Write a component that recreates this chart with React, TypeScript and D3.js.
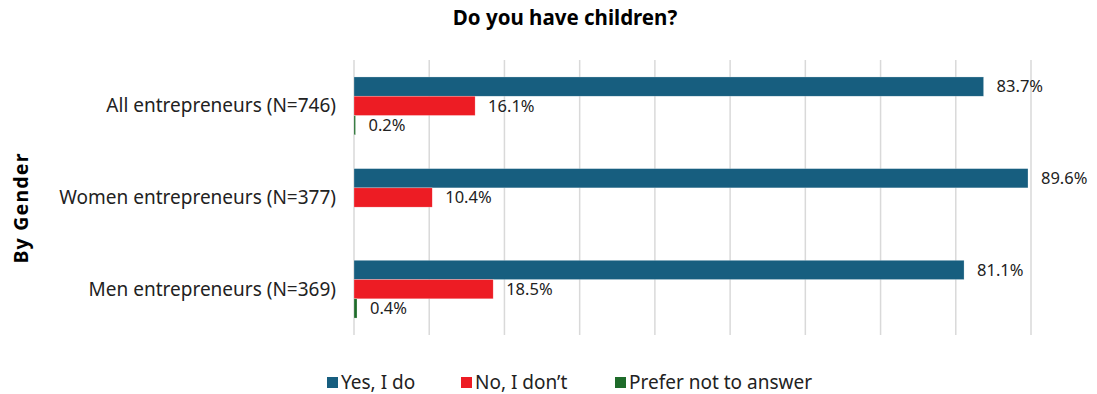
import React from "react";
import * as d3 from "d3";

const categories = [
  "All entrepreneurs (N=746)",
  "Women entrepreneurs (N=377)",
  "Men entrepreneurs (N=369)",
];
const seriesNames = ["Yes, I do", "No, I don\u2019t", "Prefer not to answer"];
const yesValues = [83.7, 89.6, 81.1];
const noValues = [16.1, 10.4, 18.5];
const preferValues: (number | null)[] = [0.2, null, 0.4];
const xTicks = [0, 10, 20, 30, 40, 50, 60, 70, 80, 90];
const colors = ["#175e7f", "#ed1c24", "#1e6b2a"];

const W = 1097;
const H = 394;
const FONT = "'Noto Sans', 'Open Sans', sans-serif";

export default function App() {
  const x = d3.scaleLinear().domain([0, 90]).range([354, 1031]);
  const y = d3.scaleBand<string>().domain(categories).range([60, 335]).paddingInner(0.37).paddingOuter(0.185);
  const sub = d3.scaleBand<number>().domain([0, 1, 2]).range([0, y.bandwidth()]);
  const series = [yesValues, noValues, preferValues];

  const legendX = [327, 461, 615];

  return (
    <div style={{ position: "fixed", left: 0, top: 0, width: W, height: H, overflow: "hidden" }}>
      <svg width={W} height={H} style={{ display: "block", fontFamily: FONT }}>
        <rect width={W} height={H} fill="#fff" />
        <text x={565} y={25} textAnchor="middle" fontSize={20.5} fontWeight="bold" fill="#000">
          Do you have children?
        </text>
        {xTicks.map((t) => (
          <line key={t} x1={x(t)} x2={x(t)} y1={60} y2={335} stroke="#d9d9d9" strokeWidth={1.5} />
        ))}
        {categories.map((c, ci) => (
          <g key={c}>
            {series.map((vals, si) => {
              const v = vals[ci];
              if (v === null || v === undefined) return null;
              const yy = (y(c) as number) + (sub(si) as number);
              const h = sub.bandwidth();
              return (
                <g key={si}>
                  <rect
                    x={x(0)}
                    y={yy}
                    width={Math.max(x(v) - x(0), 1.5)}
                    height={h}
                    fill={colors[si]}
                    stroke="#fff"
                    strokeOpacity={0.5}
                    strokeWidth={0.5}
                  />
                  <text
                    x={x(v) + 13}
                    y={yy + h / 2}
                    dy="0.35em"
                    fontSize={16.5}
                    fill="#222"
                  >
                    {v.toFixed(1)}%
                  </text>
                </g>
              );
            })}
            <text
              x={336}
              y={(y(c) as number) + y.bandwidth() / 2}
              dy="0.35em"
              textAnchor="end"
              fontSize={19}
              fill="#222"
            >
              {c}
            </text>
          </g>
        ))}
        <text
          transform={`translate(28,${208}) rotate(-90)`}
          textAnchor="middle"
          fontSize={19.5}
          fontWeight="bold"
          letterSpacing={1.2}
          fill="#000"
        >
          By Gender
        </text>
        {seriesNames.map((s, i) => (
          <g key={s}>
            <rect x={legendX[i]} y={377} width={11} height={11} fill={colors[i]} />
            <text x={legendX[i] + 14} y={382.5} dy="0.35em" fontSize={19} fill="#222">
              {s}
            </text>
          </g>
        ))}
      </svg>
    </div>
  );
}
